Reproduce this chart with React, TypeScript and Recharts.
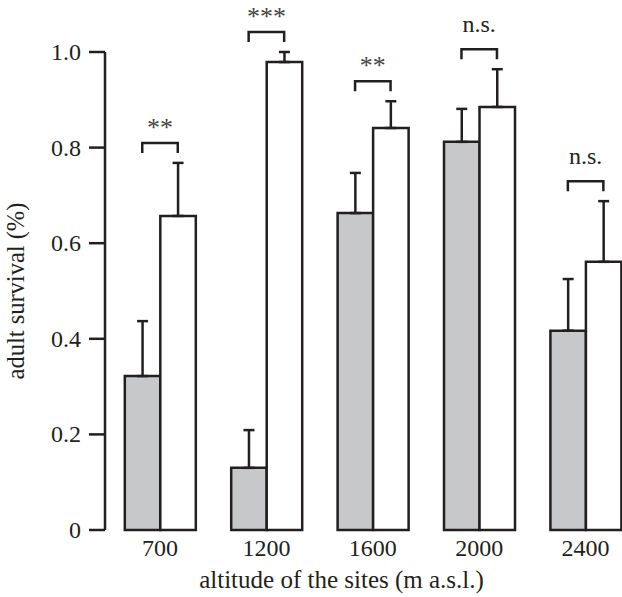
import React from "react";
import { ComposedChart, Bar, Scatter, XAxis, YAxis, ErrorBar } from "recharts";

// altitude of the sites (m a.s.l.)
const sites = ["700", "1200", "1600", "2000", "2400"];
// grey bars
const greyMean = [0.322, 0.13, 0.663, 0.812, 0.417];
const greyErr = [0.115, 0.079, 0.084, 0.069, 0.108];
// white bars
const whiteMean = [0.657, 0.979, 0.841, 0.885, 0.561];
const whiteErr = [0.111, 0.021, 0.056, 0.079, 0.127];
const significance = ["**", "***", "**", "n.s.", "n.s."];
const yTicks = [0, 0.2, 0.4, 0.6, 0.8, 1];

const ink = "#231f20";
const font = "Liberation Serif";
const textStyle = { fontFamily: font, fontSize: 24, fill: ink };
const BAR = 35.5;

const data = sites.map((site, i) => ({
    pos: i,
    site,
    grey: greyMean[i],
    greyErr: [0, greyErr[i]],
    white: whiteMean[i],
    whiteErr: [0, whiteErr[i]],
    top: Math.max(greyMean[i] + greyErr[i], whiteMean[i] + whiteErr[i]),
    sig: significance[i],
}));

function Bracket(props: any) {
    const { cx, cy, payload } = props;
    if (cx == null || cy == null) return null;
    const half = BAR / 2;
    const y = cy - 20;
    const isStar = payload.sig.startsWith("*");
    return (
        <g>
            <path
                d={`M${cx - half},${y + 10}V${y}H${cx + half}V${y + 10}`}
                fill="none"
                stroke={ink}
                strokeWidth={2.5}
            />
            <text
                x={cx}
                y={isStar ? y - 7 : y - 17}
                textAnchor="middle"
                style={{ ...textStyle, fontSize: isStar ? 26 : 24, fill: isStar ? "#444" : ink }}
            >
                {payload.sig}
            </text>
        </g>
    );
}

function XTick(props: any) {
    const { x, y, payload } = props;
    return (
        <text x={x} y={y} dy={17} textAnchor="middle" style={textStyle}>
            {sites[payload.value]}
        </text>
    );
}

function YTick(props: any) {
    const { x, y, payload } = props;
    const v = payload.value as number;
    return (
        <text x={x} y={y} dy={8} textAnchor="end" style={textStyle}>
            {v === 0 ? "0" : v.toFixed(1)}
        </text>
    );
}

const XLabel = () => (
    <text x={341.5} y={588} textAnchor="middle" style={{ ...textStyle, fontSize: 25 }}>
        altitude of the sites (m a.s.l.)
    </text>
);

const YLabel = () => (
    <text
        x={0}
        y={0}
        transform="translate(24,291) rotate(-90)"
        textAnchor="middle"
        style={{ ...textStyle, fontSize: 24.5 }}
    >
        adult survival (%)
    </text>
);

export default function App() {
    return (
        <div
            style={{
                position: "absolute",
                left: 0,
                top: 0,
                width: 622,
                height: 597,
                background: "#fff",
                fontFamily: font,
            }}
        >
            <ComposedChart
                width={622}
                height={597}
                data={data}
                barGap={0}
                margin={{ top: 52, right: 0, bottom: 0, left: 0 }}
            >
                <XAxis
                    type="number"
                    dataKey="pos"
                    domain={[-0.517, 4.342]}
                    ticks={[0, 1, 2, 3, 4]}
                    interval={0}
                    axisLine={false}
                    tickLine={false}
                    tickSize={0}
                    tickMargin={9}
                    height={67}
                    tick={<XTick />}
                    label={<XLabel />}
                />
                <YAxis
                    type="number"
                    domain={[0, 1]}
                    ticks={yTicks}
                    interval={0}
                    width={105}
                    tickSize={16}
                    tickMargin={8}
                    axisLine={{ stroke: ink, strokeWidth: 2.5 }}
                    tickLine={{ stroke: ink, strokeWidth: 2.5 }}
                    tick={<YTick />}
                    label={<YLabel />}
                />
                <Bar
                    dataKey="grey"
                    fill="#c7c8ca"
                    stroke={ink}
                    strokeWidth={2.5}
                    barSize={BAR}
                    isAnimationActive={false}
                >
                    <ErrorBar dataKey="greyErr" width={5.5} stroke={ink} strokeWidth={2.5} direction="y" />
                </Bar>
                <Bar
                    dataKey="white"
                    fill="#ffffff"
                    stroke={ink}
                    strokeWidth={2.5}
                    barSize={BAR}
                    isAnimationActive={false}
                >
                    <ErrorBar dataKey="whiteErr" width={5.5} stroke={ink} strokeWidth={2.5} direction="y" />
                </Bar>
                <Scatter dataKey="top" shape={<Bracket />} isAnimationActive={false} />
            </ComposedChart>
        </div>
    );
}
